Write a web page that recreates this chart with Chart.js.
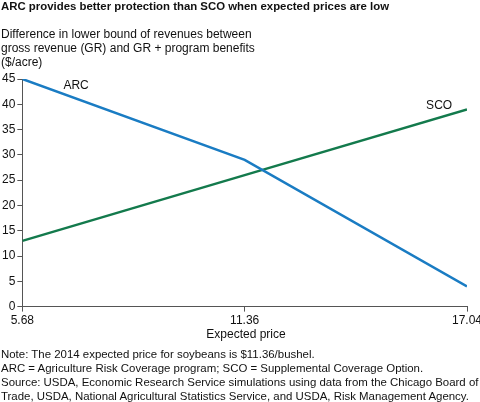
<!DOCTYPE html>
<html>
<head>
<meta charset="utf-8">
<script src="https://cdn.jsdelivr.net/npm/chart.js@4"></script>
<style>
  body { margin: 0; background: #fff; font-family: "Liberation Sans", Arial, sans-serif; color: #111; }
  #wrap { position: relative; width: 480px; height: 402px; overflow: hidden; }
  #chart { position: absolute; left: 0; top: 0; }
  .txt { position: absolute; left: 1px; white-space: nowrap; }
  #title { top: 0px; font-weight: bold; font-size: 11.4px; }
  #ylab { top: 28px; font-size: 12px; line-height: 13.8px; }
  #xlab { top: 327px; left: 0; width: 492px; text-align: center; font-size: 12px; }
  #notes { top: 347px; font-size: 11.45px; line-height: 14.1px; }
</style>
</head>
<body>
<div id="wrap">
  <canvas id="chart" width="480" height="402"></canvas>
  <div id="title" class="txt">ARC provides better protection than SCO when expected prices are low</div>
  <div id="ylab" class="txt">Difference in lower bound of revenues between<br>gross revenue (GR) and GR + program benefits<br>($/acre)</div>
  <div id="xlab" class="txt">Expected price</div>
  <div id="notes" class="txt">Note: The 2014 expected price for soybeans is $11.36/bushel.<br>ARC = Agriculture Risk Coverage program; SCO = Supplemental Coverage Option.<br>Source: USDA, Economic Research Service simulations using data from the Chicago Board of<br>Trade, USDA, National Agricultural Statistics Service, and USDA, Risk Management Agency.</div>
</div>
<script>
// Expected prices ($/bushel) on the x axis
const prices = [5.68, 11.36, 17.04];
// Difference in lower bound of revenues ($/acre)
const arcValues = [45, 29, 4];
const scoValues = [13, 26, 39];
const yTicks = [0, 5, 10, 15, 20, 25, 30, 35, 40, 45];

// Inline series labels next to the lines
const seriesLabels = {
  id: 'seriesLabels',
  afterDatasetsDraw(chart) {
    const ctx = chart.ctx;
    const x = chart.scales.x, y = chart.scales.y;
    ctx.save();
    ctx.font = '12px "Liberation Sans", Arial, sans-serif';
    ctx.fillStyle = '#111';
    ctx.textAlign = 'left';
    ctx.textBaseline = 'middle';
    // ARC label sits just above its line near the start
    ctx.fillText('ARC', x.getPixelForValue(6.73), y.getPixelForValue(43.6));
    // SCO label sits above its line near the end
    ctx.textAlign = 'right';
    ctx.fillText('SCO', x.getPixelForValue(16.66), y.getPixelForValue(39.8));
    ctx.restore();
  }
};

new Chart(document.getElementById('chart'), {
  type: 'line',
  data: {
    datasets: [{
      label: 'ARC',
      data: prices.map((p, i) => ({ x: p, y: arcValues[i] })),
      borderColor: '#1a7cc3',
      borderWidth: 2.5,
      pointRadius: 0,
      tension: 0
    }, {
      label: 'SCO',
      data: prices.map((p, i) => ({ x: p, y: scoValues[i] })),
      borderColor: '#137a4c',
      borderWidth: 2.5,
      pointRadius: 0,
      tension: 0
    }]
  },
  options: {
    responsive: false,
    animation: false,
    layout: {
      padding: { top: 79, bottom: 72, left: 0, right: 13 }
    },
    plugins: {
      legend: { display: false },
      tooltip: { enabled: false }
    },
    scales: {
      x: {
        type: 'linear',
        min: prices[0],
        max: prices[prices.length - 1],
        afterBuildTicks: function(scale) {
          scale.ticks = prices.map(v => ({ value: v }));
        },
        // let the last price label hang past the plot edge like the original
        afterFit: function(scale) {
          scale.paddingRight = 0;
        },
        ticks: {
          color: '#111',
          padding: 2,
          maxRotation: 0,
          font: { family: '"Liberation Sans", Arial, sans-serif', size: 12 },
          callback: function(value) {
            return value.toFixed(2);
          }
        },
        grid: {
          drawOnChartArea: false,
          drawTicks: true,
          tickLength: 5,
          color: '#555'
        },
        border: { color: '#555', width: 1 }
      },
      y: {
        min: 0,
        max: 45,
        afterBuildTicks: function(scale) {
          scale.ticks = yTicks.map(v => ({ value: v }));
        },
        ticks: {
          color: '#111',
          padding: 2,
          font: { family: '"Liberation Sans", Arial, sans-serif', size: 12 }
        },
        grid: {
          drawOnChartArea: false,
          drawTicks: true,
          tickLength: 5,
          color: '#555'
        },
        border: { color: '#555', width: 1 }
      }
    }
  },
  plugins: [seriesLabels]
});
</script>
</body>
</html>
